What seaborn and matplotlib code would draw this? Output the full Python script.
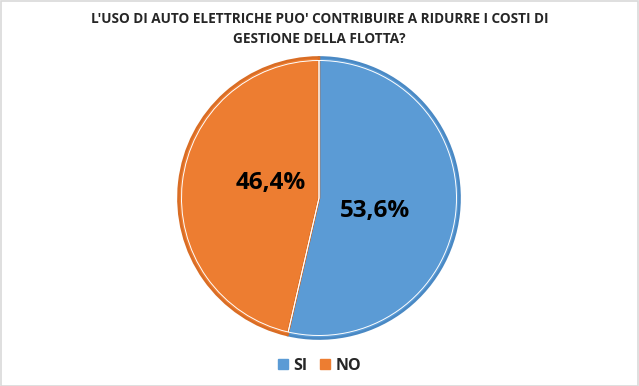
import matplotlib
matplotlib.use('Agg')
import matplotlib.pyplot as plt
import seaborn as sns
from matplotlib.patches import Rectangle

# Data
labels = ['SI', 'NO']
values = [53.6, 46.4]
colors = ['#5B9BD5', '#ED7D31']
edge_colors = ['#4A89C4', '#D96D25']
title = "L'USO DI AUTO ELETTRICHE PUO' CONTRIBUIRE A RIDURRE I COSTI DI\nGESTIONE DELLA FLOTTA?"

sns.set_theme(style='white')
plt.rcParams['font.family'] = ['Open Sans', 'DejaVu Sans']

fig = plt.figure(figsize=(6.39, 3.86), dpi=100)
ax = fig.add_axes([(319 - 142) / 639, 1 - (198 + 142) / 386, 284 / 639, 284 / 386])

wedges, texts = ax.pie(values, colors=colors, startangle=90, counterclock=False,
                       wedgeprops=dict(linewidth=1.8))
for w, ec in zip(wedges, edge_colors):
    w.set_edgecolor(ec)
# thin white separator inside the outline
ax.pie(values, colors=['none', 'none'], startangle=90, counterclock=False,
       wedgeprops=dict(linewidth=0.7, edgecolor='white', fill=False), radius=0.978)
ax.set_xlim(-1.01, 1.01)
ax.set_ylim(-1.01, 1.01)
ax.set_aspect('equal')

# percent labels
pct_pos = [(0.40, -0.09), (-0.34, 0.11)]
for v, (x, y) in zip(values, pct_pos):
    ax.text(x, y, f'{v:.1f}%'.replace('.', ','), ha='center', va='center',
            fontsize=17.5, fontweight='bold', color='black')

fig.text(0.5, 1 - 29 / 386, title, ha='center', va='center', fontsize=9.8,
         fontweight='bold', color='#262626', linespacing=1.55)

handles = [Rectangle((0, 0), 1, 1, color=c) for c in colors]
fig.legend(handles, labels, loc='center', bbox_to_anchor=(0.5, 1 - 366 / 386), ncol=2,
           frameon=False, handlelength=0.6, handleheight=0.6, handletextpad=0.35,
           columnspacing=0.8, prop={'weight': 'bold', 'size': 11.5})

fig.patches.append(Rectangle((0.001, 0.001), 0.997, 0.996, transform=fig.transFigure,
                             fill=False, edgecolor='#D9D9D9', linewidth=1.2))

fig.savefig('out.png', dpi=100)
